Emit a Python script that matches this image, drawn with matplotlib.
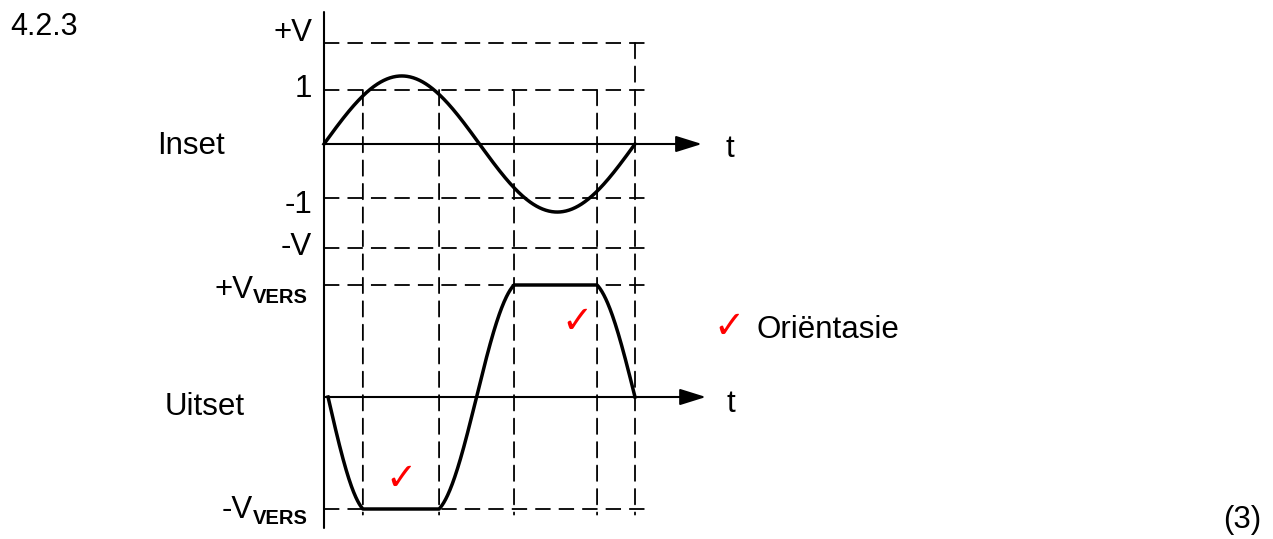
import numpy as np
import matplotlib
matplotlib.use('Agg')
import matplotlib.pyplot as plt
from matplotlib.patches import ConnectionPatch

plt.rcParams['font.family'] = ['Liberation Sans', 'DejaVu Sans']

# ---------------- data ----------------
input_level_labels = ['+V', '1', '-1', '-V']
input_levels = [1.87, 1.0, -1.0, -1.93]          # in units of the "1" level
input_peak = 1.26                                 # peak of the input sine
output_main_labels = ['+V', '-V']
output_sub_labels = ['VERS', 'VERS']
output_levels = [1.0, -1.0]                       # in units of V_VERS
guide_times = [0.125, 0.370, 0.611, 0.878, 1.0]   # vertical dashed guides (fraction of period)
guide_tops = [1.0, 1.0, 1.0, 1.0, 1.87]           # input level where each guide starts
guide_bottom = -1.05                              # output level where guides end
output_start = 0.013                              # output trace starts just right of the axis
check_t = [0.248, 0.814]
check_y = [-0.74, 0.66]

# ---------------- layout ----------------
W, H = 1273, 539
fig = plt.figure(figsize=(W / 100, H / 100), dpi=100)
T0, TP = 324, 311          # pixel of t=0 and pixels per period
SPLIT = 270
IN0, IN_U = 144, 54
OUT0, OUT_U = 397, 112

ax_in = fig.add_axes([0, 1 - SPLIT / H, 1, SPLIT / H])
ax_out = fig.add_axes([0, 0, 1, (H - SPLIT) / H])
for ax in (ax_in, ax_out):
    ax.set_xlim(-T0 / TP, (W - T0) / TP)
    ax.axis('off')
ax_in.set_ylim(-(SPLIT - IN0) / IN_U, IN0 / IN_U)
ax_out.set_ylim(-(H - OUT0) / OUT_U, (OUT0 - SPLIT) / OUT_U)

DASH = (0, (8.5, 4.5))
DLW = 1.3
HEND = 1.055

# horizontal dashed levels
for lv in input_levels:
    ax_in.plot([0, HEND], [lv, lv], color='k', lw=DLW, linestyle=DASH)
for lv in output_levels:
    ax_out.plot([0, HEND], [lv, lv], color='k', lw=DLW, linestyle=DASH)

# vertical dashed guides spanning both panels
for tg, top in zip(guide_times, guide_tops):
    cp = ConnectionPatch(xyA=(tg, top), coordsA=ax_in.transData,
                         xyB=(tg, guide_bottom), coordsB=ax_out.transData,
                         color='k', lw=DLW, linestyle=DASH)
    fig.add_artist(cp)

# vertical axis
cp = ConnectionPatch(xyA=(0, (IN0 - 12) / IN_U), coordsA=ax_in.transData,
                     xyB=(0, -(528 - OUT0) / OUT_U), coordsB=ax_out.transData,
                     color='k', lw=1.5)
fig.add_artist(cp)

# time axes with arrows
arrow = dict(arrowstyle='-|>,head_length=0.8,head_width=0.25', color='k', lw=1.5,
             shrinkA=0, shrinkB=0, mutation_scale=20)
ax_in.annotate('', xy=(1.215, 0), xytext=(0, 0), arrowprops=arrow)
ax_out.annotate('', xy=(1.228, 0), xytext=(0.003, 0), arrowprops=arrow)

# input waveform
t = np.linspace(0, 1, 600)
ax_in.plot(t, input_peak * np.sin(2 * np.pi * t), color='k', lw=2.5)

# output waveform: inverted, clipped at +/-V_VERS, sine-shaped transitions between guides
t1, t2, t3, t4, t5 = guide_times
PH = np.deg2rad(75)
def ramp(u):
    return np.sin(PH * u) / np.sin(PH)
segs = []
u = np.linspace(0, 1, 80)
segs.append((output_start + (t1 - output_start) * u, -ramp(u)))
segs.append((np.array([t1, t2]), np.array([-1.0, -1.0])))
half = np.linspace(0, 1, 80)
tm = (t2 + t3) / 2
segs.append((t2 + (tm - t2) * half, -ramp(1 - half)))
segs.append((tm + (t3 - tm) * half, ramp(half)))
segs.append((np.array([t3, t4]), np.array([1.0, 1.0])))
segs.append((t4 + (t5 - t4) * u, ramp(1 - u)))
tx = np.concatenate([s[0] for s in segs])
ty = np.concatenate([s[1] for s in segs])
ax_out.plot(tx, ty, color='k', lw=2.5, solid_joinstyle='round')

FS = 22.5
# input level labels
in_base = [2, -7, -15, -7]   # baseline offsets (pixels) relative to level line
for lab, lv, db in zip(input_level_labels, input_levels, in_base):
    ax_in.annotate(lab, xy=(0, lv), xytext=(-12, db), textcoords='offset pixels',
                   ha='right', va='baseline', fontsize=FS)

# output level labels (V with bold subscript VERS)
main_base = [-13, -9]
sub_base = [-18, -15]
for m, s, lv, mb, sb in zip(output_main_labels, output_sub_labels, output_levels,
                            main_base, sub_base):
    ax_out.annotate(s, xy=(0, lv), xytext=(-16, sb), textcoords='offset pixels',
                    ha='right', va='baseline', fontsize=14.5, fontweight='bold')
    ax_out.annotate(m, xy=(0, lv), xytext=(-71, mb), textcoords='offset pixels',
                    ha='right', va='baseline', fontsize=FS)

# axis names
ax_in.annotate('Inset', xy=(0, 0), xytext=(157 - T0, -(154 - IN0)), textcoords='offset pixels',
               ha='left', va='baseline', fontsize=FS)
ax_out.annotate('Uitset', xy=(0, 0), xytext=(165 - T0, -(415 - OUT0)), textcoords='offset pixels',
                ha='left', va='baseline', fontsize=FS)
ax_in.annotate('t', xy=(1.215, 0), xytext=(24, -13), textcoords='offset pixels',
               ha='left', va='baseline', fontsize=FS)
ax_out.annotate('t', xy=(1.228, 0), xytext=(21, -15), textcoords='offset pixels',
                ha='left', va='baseline', fontsize=FS)

# red check marks
CFS = 27
for tc, yc in zip(check_t, check_y):
    ax_out.text(tc, yc, '\u2713', color='red', fontsize=CFS, ha='center', va='center',
                family=['DejaVu Sans'], fontweight='bold')

# annotation legend
fig.text(729 / W, 1 - 328 / H, '\u2713', color='red', fontsize=CFS, ha='center', va='center',
         family=['DejaVu Sans'], fontweight='bold')
fig.text(756 / W, 1 - 338 / H, 'Oriëntasie', fontsize=FS, ha='left', va='baseline')

fig.text(10 / W, 1 - 35 / H, '4.2.3', fontsize=22, ha='left', va='baseline')
fig.text(1261 / W, 1 - 528 / H, '(3)', fontsize=22.5, ha='right', va='baseline')

fig.savefig('out.png', dpi=100)
